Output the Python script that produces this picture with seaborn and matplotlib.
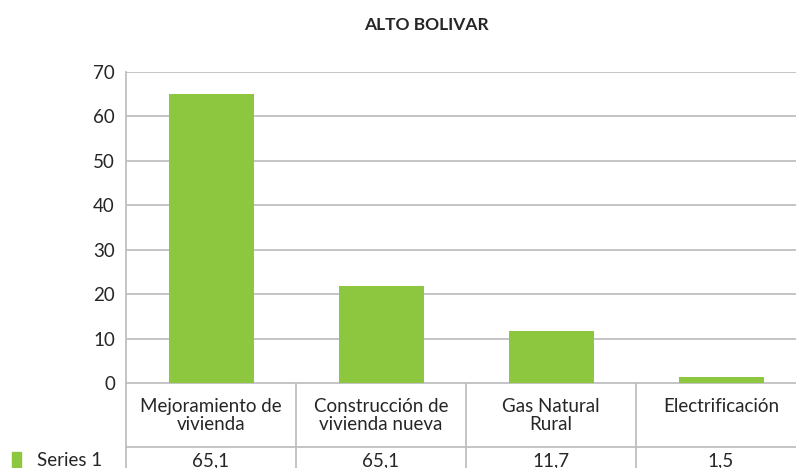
import matplotlib
matplotlib.use("Agg")
import matplotlib.pyplot as plt
import matplotlib.transforms as mtransforms
from matplotlib.patches import Rectangle
import seaborn as sns
import pandas as pd

# ---- data ----
categories = ["Mejoramiento de\nvivienda", "Construcción de\nvivienda nueva", "Gas Natural\nRural", "Electrificación"]
values = [65.1, 21.8, 11.7, 1.3]
table_labels = ["65,1", "65,1", "11,7", "1,5"]
series_name = "Series 1"
title = "ALTO BOLIVAR"
yticks = [0, 10, 20, 30, 40, 50, 60, 70]

GREEN = "#8DC63F"
GRID = "#BFBFC1"
TXT = "#262626"

sns.set_theme(style="white")
plt.rcParams["font.family"] = ["Lato", "DejaVu Sans"]

fig = plt.figure(figsize=(7.96, 4.68), dpi=100)
ax = fig.add_axes([126/796, (468-383)/468, 680/796, 311/468])

df = pd.DataFrame({"cat": categories, "val": values})
sns.barplot(data=df, x="cat", y="val", color=GREEN, saturation=1, width=0.5, ax=ax,
            zorder=3, linewidth=0, edgecolor="none")

ax.set_ylim(0, 70)
ax.set_xlim(-0.5, len(categories) - 0.5)
ax.set_yticks(yticks)
ax.set_yticklabels([str(t) for t in yticks], fontsize=13.5, color=TXT)
ax.tick_params(axis="y", length=0, pad=8)
ax.set_xticks([])
ax.set_xlabel("")
ax.set_ylabel("")
for t in yticks[1:]:
    ax.axhline(t, color=GRID, lw=1.3, zorder=1)
for s in ["top", "right"]:
    ax.spines[s].set_visible(False)
for s in ["left", "bottom"]:
    ax.spines[s].set_color(GRID)
    ax.spines[s].set_linewidth(1.3)

# ---- data table below ----
trans = mtransforms.blended_transform_factory(ax.transData, ax.transAxes)
px = 1 / 311.0
row1_bottom = -64 * px
row2_bottom = -100 * px
n = len(categories)
for i in range(n + 1):
    ax.plot([i - 0.5, i - 0.5], [0, row2_bottom], color=GRID, lw=1.3, transform=trans, clip_on=False)
ax.plot([-0.5, n - 0.5], [row1_bottom, row1_bottom], color=GRID, lw=1.3, transform=trans, clip_on=False)
for i, (c, lab) in enumerate(zip(categories, table_labels)):
    ax.text(i, -15 * px, c, transform=trans, ha="center", va="top", fontsize=13.5,
            color=TXT, linespacing=1.05)
    ax.text(i, -78 * px, lab, transform=trans, ha="center", va="center", fontsize=13.5, color=TXT)

# legend key in table
fig.patches.append(Rectangle((12/796, 1 - 470/468), 9/796, 18/468, transform=fig.transFigure,
                             color=GREEN, clip_on=False))
fig.text(37/796, 1 - 461/468, series_name, ha="left", va="center", fontsize=13.5, color=TXT)

fig.text(426/796, 1 - 25/468, title, ha="center", va="center", fontsize=12.5, fontweight="bold", color=TXT)

fig.savefig("out.png", dpi=100)
